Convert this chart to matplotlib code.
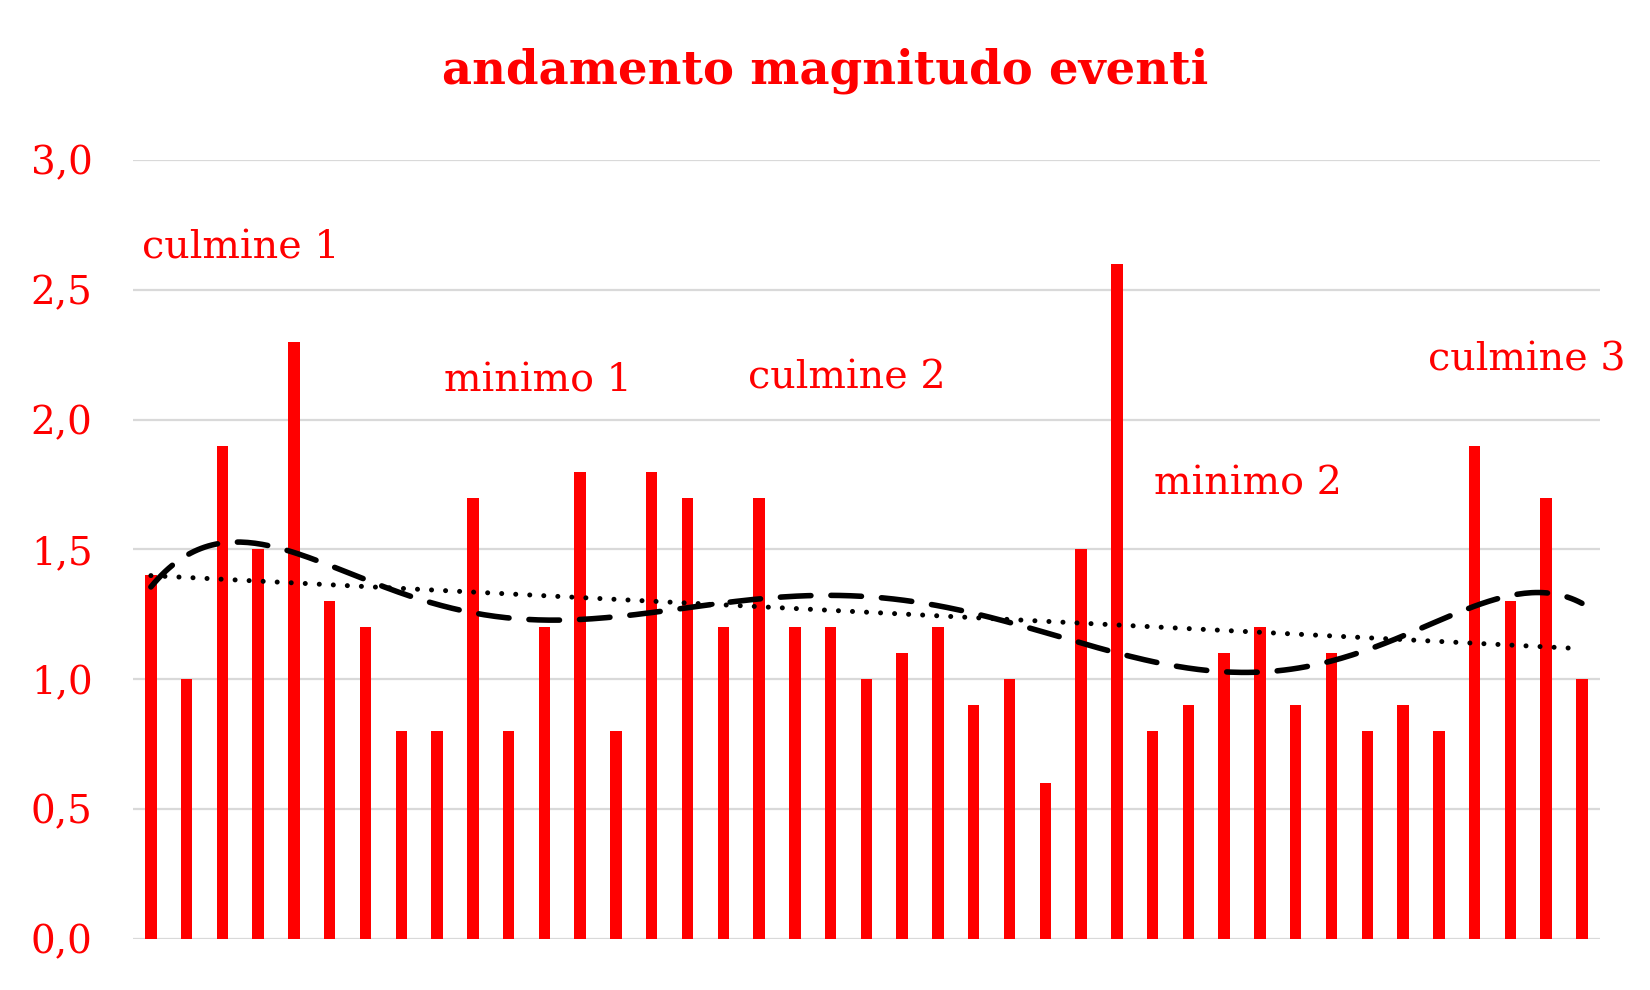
import matplotlib.pyplot as plt
import numpy as np

# Magnitudo per evento
magnitudo = [1.4, 1.0, 1.9, 1.5, 2.3, 1.3, 1.2, 0.8, 0.8, 1.7,
             0.8, 1.2, 1.8, 0.8, 1.8, 1.7, 1.2, 1.7, 1.2, 1.2,
             1.0, 1.1, 1.2, 0.9, 1.0, 0.6, 1.5, 2.6, 0.8, 0.9,
             1.1, 1.2, 0.9, 1.1, 0.8, 0.9, 0.8, 1.9, 1.3, 1.7, 1.0]
etichette = ['culmine 1', 'minimo 1', 'culmine 2', 'minimo 2', 'culmine 3']
etichette_pos = [(-0.25, 2.62), (8.18, 2.11), (16.7, 2.12), (28.05, 1.71), (35.7, 2.19)]
tick_vals = [0.0, 0.5, 1.0, 1.5, 2.0, 2.5, 3.0]

red = '#ff0000'
plt.rc('font', family=['DejaVu Serif'])

fig = plt.figure(figsize=(16.5, 9.9), dpi=100)
ax = fig.add_axes([0.0806, 0.0515, 0.889, 0.787])

x = np.arange(len(magnitudo))
y = np.array(magnitudo)
ax.bar(x, y, width=0.32, color=red, zorder=2)

# Linee di tendenza: lineare e polinomiale (ordine 6)
xx = np.linspace(0, len(y) - 1, 400)
lin = np.polyval(np.polyfit(x, y, 1), xx)
poly = np.polyval(np.polyfit(x, y, 6), xx)
ax.plot(xx, poly, color='black', lw=4.0, ls=(0, (5.5, 3.6)), dash_capstyle='round', zorder=3)
ax.plot(xx, lin, color='black', lw=3.6, ls=(0, (0.01, 2.8)), dash_capstyle='round', zorder=3)

for testo, (px, py) in zip(etichette, etichette_pos):
    ax.text(px, py, testo, color=red, fontsize=28.5, ha='left', va='baseline', clip_on=False)

ax.set_xlim(-0.5, len(y) - 0.5)
ax.set_ylim(0, 3.0)
ax.set_yticks(tick_vals)
ax.set_yticklabels([f'{v:.1f}'.replace('.', ',') for v in tick_vals], color=red, fontsize=28)
ax.set_xticks([])
ax.tick_params(axis='y', length=0, pad=29)
ax.grid(axis='y', color='#d9d9d9', lw=1.6, zorder=0)
for s in ax.spines.values():
    s.set_visible(False)

fig.text(0.5, 0.929, 'andamento magnitudo eventi', color=red, fontsize=33.5,
         fontweight='bold', ha='center', va='center')

plt.savefig('out.png', dpi=100)
